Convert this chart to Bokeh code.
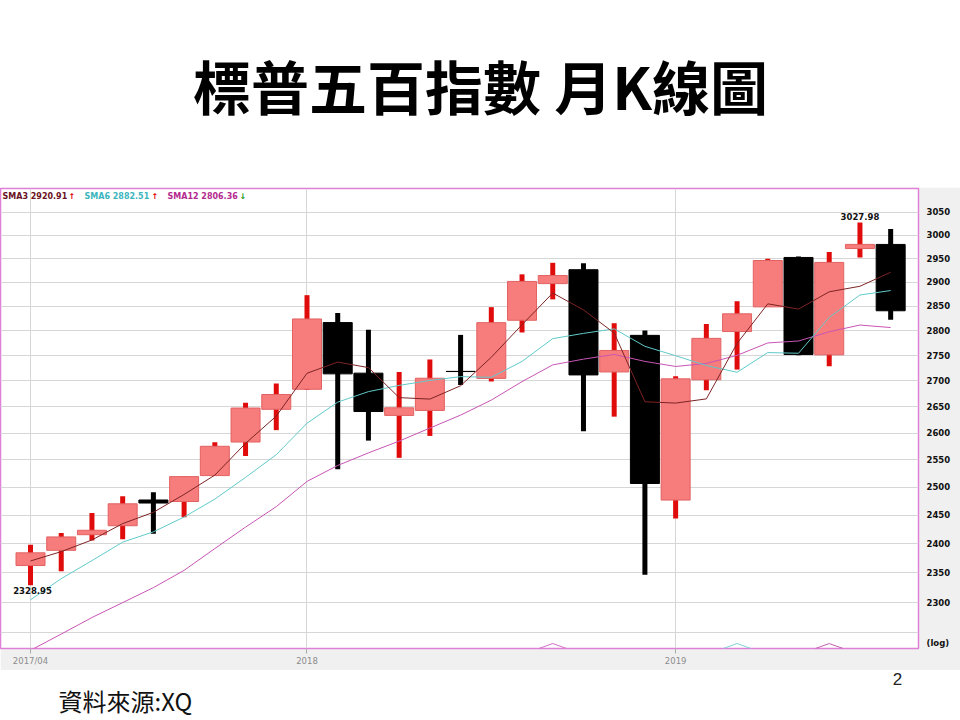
from bokeh.plotting import figure
from bokeh.models import Range1d, FixedTicker, CustomJSTickFormatter, Label, ColumnDataSource
from bokeh.layouts import column
from bokeh.embed import file_html
from bokeh.resources import INLINE
from bokeh.core.properties import value

# ---------------- data ----------------
title_text = "標普五百指數 月K線圖"
source_text = "資料來源:XQ"
page_no = "2"

months = ["2017/04", "2017/05", "2017/06", "2017/07", "2017/08", "2017/09", "2017/10",
          "2017/11", "2017/12", "2018/01", "2018/02", "2018/03", "2018/04", "2018/05",
          "2018/06", "2018/07", "2018/08", "2018/09", "2018/10", "2018/11", "2018/12",
          "2019/01", "2019/02", "2019/03", "2019/04", "2019/05", "2019/06", "2019/07",
          "2019/08"]
opens = [2362.34, 2388.50, 2415.65, 2431.39, 2477.10, 2474.42, 2521.20, 2583.21, 2645.10,
         2683.73, 2816.45, 2715.22, 2633.45, 2642.96, 2718.70, 2704.95, 2821.17, 2896.96,
         2926.29, 2717.58, 2790.50, 2476.96, 2702.32, 2798.22, 2848.63, 2952.33, 2751.53,
         2971.41, 2980.32]
highs = [2398.16, 2418.71, 2453.82, 2484.04, 2490.87, 2519.44, 2582.98, 2657.74, 2694.97,
         2872.87, 2835.96, 2801.90, 2717.49, 2742.24, 2791.47, 2848.03, 2916.50, 2940.91,
         2939.86, 2815.15, 2800.18, 2708.95, 2813.49, 2860.31, 2949.52, 2954.13, 2964.15,
         3027.98, 3013.59]
lows = [2328.95, 2352.72, 2405.70, 2407.70, 2417.35, 2446.55, 2520.40, 2557.45, 2605.52,
        2682.36, 2532.69, 2585.89, 2553.80, 2594.62, 2691.99, 2698.95, 2796.34, 2864.12,
        2603.54, 2631.09, 2346.58, 2443.96, 2681.83, 2722.27, 2848.63, 2750.52, 2728.81,
        2952.22, 2822.12]
closes = [2384.20, 2411.80, 2423.41, 2470.30, 2471.65, 2519.36, 2575.26, 2647.58, 2673.61,
          2823.81, 2713.83, 2640.87, 2648.05, 2705.27, 2718.37, 2816.29, 2901.52, 2913.98,
          2711.74, 2760.17, 2506.85, 2704.10, 2784.49, 2834.40, 2945.83, 2752.06, 2941.76,
          2980.38, 2840.59]
sma3 = [2370.19, 2386.24, 2406.47, 2435.17, 2455.12, 2487.10, 2522.09, 2580.73, 2632.15,
        2715.00, 2737.08, 2726.17, 2667.58, 2664.73, 2690.56, 2746.64, 2812.06, 2877.26,
        2842.41, 2795.30, 2659.59, 2657.04, 2665.15, 2774.33, 2854.91, 2844.10, 2879.88,
        2891.40, 2920.91]
sma6 = [2304.51, 2340.01, 2370.77, 2402.68, 2420.68, 2446.79, 2478.63, 2517.93, 2559.63,
        2618.55, 2658.91, 2679.16, 2691.29, 2700.91, 2708.37, 2707.11, 2738.40, 2783.91,
        2794.53, 2803.68, 2768.43, 2749.73, 2730.22, 2716.96, 2755.97, 2754.62, 2827.11,
        2873.15, 2882.51]
sma12 = [2221.82, 2248.06, 2275.10, 2299.83, 2324.89, 2354.15, 2391.57, 2428.97, 2465.20,
         2510.61, 2539.79, 2562.97, 2584.96, 2609.42, 2634.00, 2662.83, 2698.65, 2731.54,
         2742.91, 2752.29, 2738.40, 2728.42, 2734.31, 2750.44, 2775.25, 2779.15, 2797.77,
         2811.44, 2806.36]
x_tick_labels = {0: "2017/04", 9: "2018", 21: "2019"}
y_ticks = [2300, 2350, 2400, 2450, 2500, 2550, 2600, 2650, 2700, 2750, 2800, 2850,
           2900, 2950, 3000, 3050]
y_grid_levels = [2250] + y_ticks
bump_months = [17, 23, 26]          # small indicator marks at the bottom edge
bump_colors = ["#d070c8", "#7fd0d8", "#c060b0"]

# ---------------- styles / layout ----------------
W = 960
R_BORDER = 42
FRAME_W = W - R_BORDER
TOP_H = 187
CHART_H = 483
BOT_H = 50
Y_LO, Y_HI = 2224.7, 3103.4
LOG_LABEL_AT = 2233.0
UP_FILL = "#f77c7c"
UP_LINE = "#e26262"
UP_WICK = "#e00c0c"
DN = "#000000"
C3, C6, C12 = "#7e2424", "#62caca", "#c855b4"
L3, L6, L12 = "#6a1224", "#3cb6be", "#b42a8e"
FRAME = "#e07fd8"
GRID = "#d6d6d6"
PANEL = "#f0f0f0"


def text_fig(h):
    f = figure(width=W, height=h, x_range=Range1d(0, FRAME_W), y_range=Range1d(h, 0),
               x_axis_location=None, y_axis_location=None, output_backend="svg",
               toolbar_location=None, min_border_left=0, min_border_right=R_BORDER,
               min_border_top=0, min_border_bottom=0)
    f.grid.visible = False
    f.outline_line_color = None
    f.background_fill_color = "white"
    f.border_fill_color = "white"
    return f


# ---------------- top (title) ----------------
top = text_fig(TOP_H)
top.text(x=[480], y=[84], text=[title_text], text_align="center", text_baseline="middle",
         text_font=value("Noto Sans CJK TC"), text_font_style="bold",
         text_font_size="58px", text_color="black")

# ---------------- chart ----------------
idx = list(range(len(months)))
up_ids = [i for i in idx if closes[i] >= opens[i]]
dn_ids = [i for i in idx if closes[i] < opens[i]]


def make_src(ids):
    return ColumnDataSource(dict(
        x=ids,
        high=[highs[i] for i in ids],
        low=[lows[i] for i in ids],
        top=[max(opens[i], closes[i]) for i in ids],
        bottom=[min(opens[i], closes[i]) for i in ids],
    ))


s_up = make_src(up_ids)
s_dn = make_src(dn_ids)

chart = figure(width=W, height=CHART_H, y_axis_type="log", y_axis_location="right",
               x_range=Range1d(-0.977, 28.906), y_range=Range1d(Y_LO, Y_HI),
               output_backend="svg", toolbar_location=None,
               min_border_left=0, min_border_top=1, min_border_right=R_BORDER,
               min_border_bottom=22)
chart.border_fill_color = PANEL
chart.background_fill_color = "white"
chart.outline_line_color = FRAME
chart.outline_line_width = 1.5

# axes
chart.xaxis.ticker = FixedTicker(ticks=list(x_tick_labels.keys()))
chart.xaxis.major_label_overrides = x_tick_labels
chart.xaxis.axis_line_color = None
chart.xaxis.major_tick_line_color = "#a8a8a8"
chart.xaxis.major_tick_out = 5
chart.xaxis.major_tick_in = 0
chart.xaxis.minor_tick_line_color = None
chart.xaxis.major_label_standoff = 2
chart.xaxis.major_label_text_font = "DejaVu Sans"
chart.xaxis.major_label_text_font_size = "8.5px"
chart.xaxis.major_label_text_color = "#8c8c8c"

chart.yaxis.ticker = FixedTicker(ticks=[LOG_LABEL_AT] + y_ticks)
chart.yaxis.formatter = CustomJSTickFormatter(
    code="return tick < 2280 ? '(log)' : tick.toFixed(0);")
chart.yaxis.axis_line_color = None
chart.yaxis.major_tick_line_color = None
chart.yaxis.minor_tick_line_color = None
chart.yaxis.major_label_standoff = 2
chart.yaxis.major_label_text_font = "DejaVu Sans"
chart.yaxis.major_label_text_font_style = "bold"
chart.yaxis.major_label_text_font_size = "8.5px"
chart.yaxis.major_label_text_color = "#111111"

chart.xgrid.ticker = FixedTicker(ticks=list(x_tick_labels.keys()))
chart.ygrid.ticker = FixedTicker(ticks=y_grid_levels)
chart.xgrid.grid_line_color = GRID
chart.ygrid.grid_line_color = GRID

# candles
chart.segment(x0="x", y0="low", x1="x", y1="high", source=s_up, line_color=UP_WICK,
              line_width=5, line_cap="butt")
chart.segment(x0="x", y0="low", x1="x", y1="high", source=s_dn, line_color=DN,
              line_width=5, line_cap="butt")
chart.vbar(x="x", width=0.944, top="top", bottom="bottom", source=s_up,
           fill_color=UP_FILL, line_color=UP_LINE, line_width=1)
chart.vbar(x="x", width=0.944, top="top", bottom="bottom", source=s_dn,
           fill_color=DN, line_color=DN, line_width=1)

# moving averages
chart.line(idx, sma12, line_color=C12, line_width=1)
chart.line(idx, sma6, line_color=C6, line_width=1)
chart.line(idx, sma3, line_color=C3, line_width=1)

# small bumps at the bottom edge (sub-indicator peaks)
chart.multi_line(xs=[[m - 0.45, m, m + 0.45] for m in bump_months],
                 ys=[[Y_LO, Y_LO * 1.0036, Y_LO] for _ in bump_months],
                 line_color=bump_colors, line_width=1)

# min / max annotations
imin = min(idx, key=lambda i: lows[i])
imax = max(idx, key=lambda i: highs[i])
chart.text(x=[imin], y=[lows[imin]], text=[f"{lows[imin]:.2f}"], text_align="center",
           text_baseline="top", x_offset=2, y_offset=2, text_font=value("DejaVu Sans"),
           text_font_style="bold", text_font_size="8.5px", text_color="#111111")
chart.text(x=[imax], y=[highs[imax]], text=[f"{highs[imax]:.2f}"], text_align="center",
           text_baseline="bottom", x_offset=0, y_offset=-2, text_font=value("DejaVu Sans"),
           text_font_style="bold", text_font_size="8.5px", text_color="#111111")

# legend (SMA readout)
FH = CHART_H - 1 - 22  # frame height in px


def arrow(series):
    return ("↑", "#e00000") if series[-1] >= series[-2] else ("↓", "#119911")


legend_items = [
    (f"SMA3 {sma3[-1]:.2f}", L3, 2), (arrow(sma3)[0], arrow(sma3)[1], 68),
    (f"SMA6 {sma6[-1]:.2f}", L6, 84), (arrow(sma6)[0], arrow(sma6)[1], 151),
    (f"SMA12 {sma12[-1]:.2f}", L12, 167), (arrow(sma12)[0], arrow(sma12)[1], 239),
]
for txt, col, xpos in legend_items:
    chart.add_layout(Label(x=xpos, y=FH - 8, x_units="screen", y_units="screen", text=txt,
                           text_color=col, text_font="DejaVu Sans", text_font_style="bold",
                           text_font_size="8px", text_baseline="middle"))

# ---------------- bottom (source) ----------------
bot = text_fig(BOT_H)
bot.text(x=[58], y=[30], text=[source_text], text_align="left", text_baseline="middle",
         text_font=value("Noto Sans CJK TC"), text_font_size="24px", text_color="#111111")
bot.text(x=[897], y=[8], text=[page_no], text_align="center", text_baseline="middle",
         text_font=value("Liberation Sans"), text_font_size="17px", text_color="#222222")

layout = column(top, chart, bot, spacing=0)
open("out.html", "w").write(file_html(layout, INLINE))
